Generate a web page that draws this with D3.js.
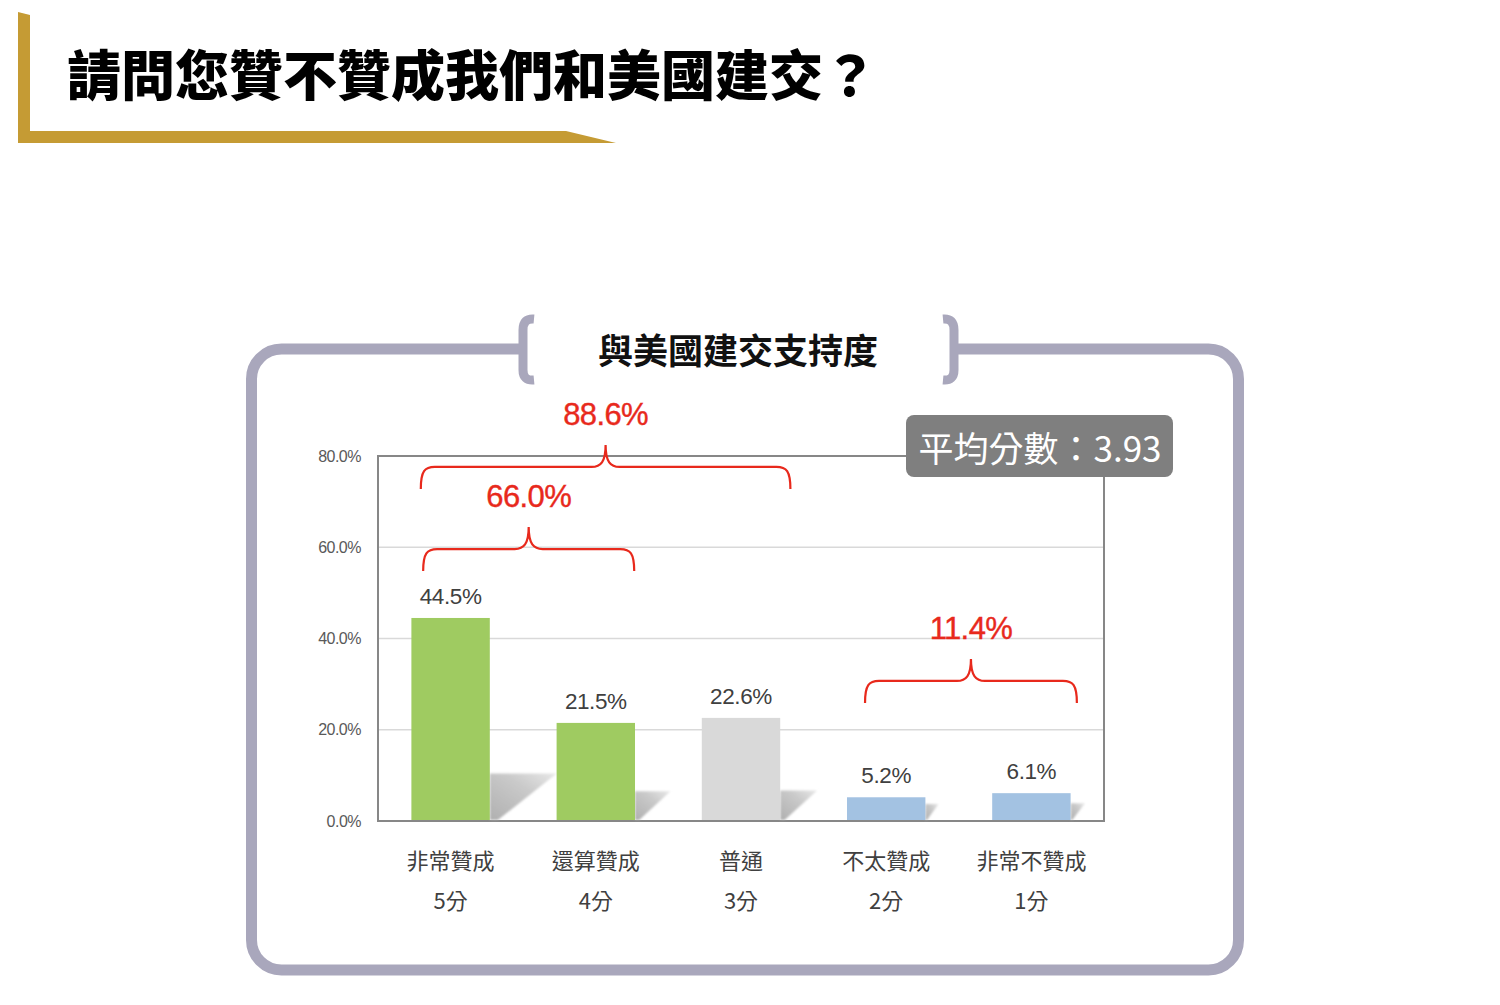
<!DOCTYPE html>
<html>
<head>
<meta charset="utf-8">
<script src="https://cdn.jsdelivr.net/npm/d3@7"></script>
<style>
  body { margin: 0; background: #fff; }
  svg { display: block; }
  .cjk { font-family: "Noto Sans CJK TC", "Noto Sans CJK SC", sans-serif; }
  .num { font-family: "Liberation Sans", Arial, sans-serif; }
</style>
</head>
<body>
<div id="chart"></div>
<script>
// DATA
const categories = ["非常贊成", "還算贊成", "普通", "不太贊成", "非常不贊成"];
const scoreLabels = ["5分", "4分", "3分", "2分", "1分"];
const values = [44.5, 21.5, 22.6, 5.2, 6.1];
const barColors = ["#9fcb61", "#9fcb61", "#d9d9d9", "#a3c2e2", "#a3c2e2"];
const yTicks = [0, 20, 40, 60, 80];

// brace groups: first/last category index, label
const braceFrom = [0, 0, 3];
const braceTo = [2, 1, 4];
const braceLabels = ["88.6%", "66.0%", "11.4%"];
const braceLevel = [77.6, 59.6, 30.7]; // y position in axis units

const pageTitle = "請問您贊不贊成我們和美國建交？";
const chartTitle = "與美國建交支持度";
const meanText = "平均分數：3.93";

// 1: SVG + LAYOUT
const W = 1500, H = 1005;
const plot = { left: 378, right: 1104, top: 456, bottom: 821 };

const svg = d3.select("#chart").append("svg")
    .attr("width", W)
    .attr("height", H);

const defs = svg.append("defs");
const grad = defs.append("linearGradient")
    .attr("id", "shadowGrad")
    .attr("x1", "0").attr("y1", "1").attr("x2", "1").attr("y2", "0");
grad.append("stop").attr("offset", "0").attr("stop-color", "#a8a8a8");
grad.append("stop").attr("offset", "0.6").attr("stop-color", "#c4c4c4");
grad.append("stop").attr("offset", "1").attr("stop-color", "#e6e6e6");
defs.append("filter").attr("id", "blur")
    .append("feGaussianBlur").attr("stdDeviation", 1.2);

// 2: HEADER
svg.append("polygon")
    .attr("points", "18,12 30,15 30,131 566,131 616,143 18,143")
    .attr("fill", "#c59b34");

svg.append("text")
    .attr("class", "cjk")
    .attr("x", 67)
    .attr("y", 72)
    .attr("dominant-baseline", "central")
    .attr("font-size", 54)
    .attr("font-weight", 900)
    .attr("fill", "#000")
    .text(pageTitle);

// 3: OUTER FRAME
const frameColor = "#a9a7bc";
const fx0 = 251.5, fx1 = 1238.5, fy0 = 349, fy1 = 970, r = 30;
svg.append("path")
    .attr("d", `M526,${fy0} H${fx0 + r} A${r},${r} 0 0 0 ${fx0},${fy0 + r} V${fy1 - r}
        A${r},${r} 0 0 0 ${fx0 + r},${fy1} H${fx1 - r} A${r},${r} 0 0 0 ${fx1},${fy1 - r}
        V${fy0 + r} A${r},${r} 0 0 0 ${fx1 - r},${fy0} H952`)
    .attr("fill", "none")
    .attr("stroke", frameColor)
    .attr("stroke-width", 11);

svg.append("path")
    .attr("d", "M534,319 Q523,318 523,330 V370 Q523,381 534,380")
    .attr("fill", "none").attr("stroke", frameColor).attr("stroke-width", 9);
svg.append("path")
    .attr("d", "M943,319 Q954,318 954,330 V370 Q954,381 943,380")
    .attr("fill", "none").attr("stroke", frameColor).attr("stroke-width", 9);

svg.append("text")
    .attr("class", "cjk")
    .attr("x", 738)
    .attr("y", 348)
    .attr("text-anchor", "middle")
    .attr("dominant-baseline", "central")
    .attr("font-size", 35)
    .attr("font-weight", 700)
    .attr("fill", "#111")
    .text(chartTitle);

// 4: SCALES
const x = d3.scaleBand()
    .domain(categories)
    .range([plot.left, plot.right])
    .paddingInner(0.46)
    .paddingOuter(0.23);

const y = d3.scaleLinear()
    .domain([0, 80])
    .range([plot.bottom, plot.top]);

// 5: GRID + AXES
svg.append("g")
    .selectAll("line")
    .data(yTicks.filter(d => d > 0 && d < 80))
    .join("line")
    .attr("x1", plot.left).attr("x2", plot.right)
    .attr("y1", d => y(d)).attr("y2", d => y(d))
    .attr("stroke", "#d9d9d9")
    .attr("stroke-width", 1.5);

const yAxis = svg.append("g")
    .attr("transform", `translate(${plot.left},0)`)
    .call(d3.axisLeft(y)
        .tickValues(yTicks)
        .tickSize(0)
        .tickPadding(17)
        .tickFormat(d => d.toFixed(1) + "%"));
yAxis.select(".domain").remove();
yAxis.selectAll("text")
    .attr("class", "num")
    .attr("font-size", 16)
    .attr("letter-spacing", -0.5)
    .attr("fill", "#595959");

// plot border
const axisColor = "#878787";
svg.append("path")
    .attr("d", `M906,${plot.top} H${plot.left} V${plot.bottom} H${plot.right} V477`)
    .attr("fill", "none")
    .attr("stroke", axisColor)
    .attr("stroke-width", 2);

// 6: SHADOWS + BARS
const bars = categories.map((c, i) => ({ c, v: values[i], color: barColors[i] }));

svg.append("g")
    .attr("filter", "url(#blur)")
    .selectAll("polygon")
    .data(bars)
    .join("polygon")
    .attr("points", d => {
        const h = y(0) - y(d.v);
        const x1 = x(d.c) + x.bandwidth();
        const sh = 0.17 * h + 12, sw = 0.3 * h + 6;
        const b = y(0) - 1;
        return [[x1, b], [x1, b - sh], [x1 + sw, b - sh], [x1 + sw * 0.12, b]].join(" ");
    })
    .attr("fill", "url(#shadowGrad)")
    .attr("opacity", 0.9);

svg.append("g")
    .selectAll("rect")
    .data(bars)
    .join("rect")
    .attr("x", d => x(d.c))
    .attr("y", d => y(d.v))
    .attr("width", x.bandwidth())
    .attr("height", d => y(0) - y(d.v) - 1)
    .attr("fill", d => d.color);

svg.append("g")
    .selectAll("text")
    .data(bars)
    .join("text")
    .attr("class", "num")
    .attr("x", d => x(d.c) + x.bandwidth() / 2)
    .attr("y", d => y(d.v) - 14)
    .attr("text-anchor", "middle")
    .attr("font-size", 22.5)
    .attr("letter-spacing", -0.4)
    .attr("fill", "#404040")
    .text(d => d.v.toFixed(1) + "%");

// 7: CATEGORY LABELS
const xl = svg.append("g");
xl.selectAll("text.cat")
    .data(categories)
    .join("text")
    .attr("class", "cjk cat")
    .attr("x", d => x(d) + x.bandwidth() / 2)
    .attr("y", 859)
    .attr("text-anchor", "middle")
    .attr("dominant-baseline", "central")
    .attr("font-size", 22)
    .attr("fill", "#404040")
    .text(d => d);
xl.selectAll("text.score")
    .data(scoreLabels)
    .join("text")
    .attr("class", "cjk score")
    .attr("x", (d, i) => x(categories[i]) + x.bandwidth() / 2)
    .attr("y", 899)
    .attr("text-anchor", "middle")
    .attr("dominant-baseline", "central")
    .attr("font-size", 22)
    .attr("fill", "#404040")
    .text(d => d);

// 8: BRACES
function bracePath(x0, x1, yl) {
    const xm = (x0 + x1) / 2, d = 22, c = 14;
    return `M${x0},${yl + d} C${x0},${yl + 4} ${x0 + 4},${yl} ${x0 + c},${yl}
        H${xm - c} C${xm - 5},${yl} ${xm},${yl - 5} ${xm},${yl - d}
        C${xm},${yl - 5} ${xm + 5},${yl} ${xm + c},${yl}
        H${x1 - c} C${x1 - 4},${yl} ${x1},${yl + 4} ${x1},${yl + d}`;
}
const braces = braceLabels.map((lab, i) => {
    const span = braceTo[i] - braceFrom[i];
    const first = braceFrom[i] === 0;
    return {
        lab,
        x0: x(categories[braceFrom[i]]) + x.bandwidth() * (first ? (span > 1 ? 0.12 : 0.15) : 0.23),
        x1: x(categories[braceTo[i]]) + x.bandwidth() * (span > 1 ? 1.13 : (first ? 0.99 : 1.08)),
        yl: y(braceLevel[i])
    };
});
const red = "#e8291c";
const bg = svg.append("g");
bg.selectAll("path")
    .data(braces)
    .join("path")
    .attr("d", d => bracePath(d.x0, d.x1, d.yl))
    .attr("fill", "none")
    .attr("stroke", red)
    .attr("stroke-width", 2.2);
bg.selectAll("text")
    .data(braces)
    .join("text")
    .attr("class", "num")
    .attr("x", d => (d.x0 + d.x1) / 2)
    .attr("y", d => d.yl - 22 - 20)
    .attr("text-anchor", "middle")
    .attr("font-size", 31)
    .attr("letter-spacing", -0.6)
    .attr("stroke", red)
    .attr("stroke-width", 0.4)
    .attr("fill", red)
    .text(d => d.lab);

// 9: MEAN BOX
svg.append("rect")
    .attr("x", 906).attr("y", 415)
    .attr("width", 267).attr("height", 62)
    .attr("rx", 8)
    .attr("fill", "#7f7f7f");
svg.append("text")
    .attr("class", "cjk")
    .attr("x", 1040)
    .attr("y", 446)
    .attr("text-anchor", "middle")
    .attr("dominant-baseline", "central")
    .attr("font-size", 35)
    .attr("fill", "#fff")
    .text(meanText);
</script>
</body>
</html>
